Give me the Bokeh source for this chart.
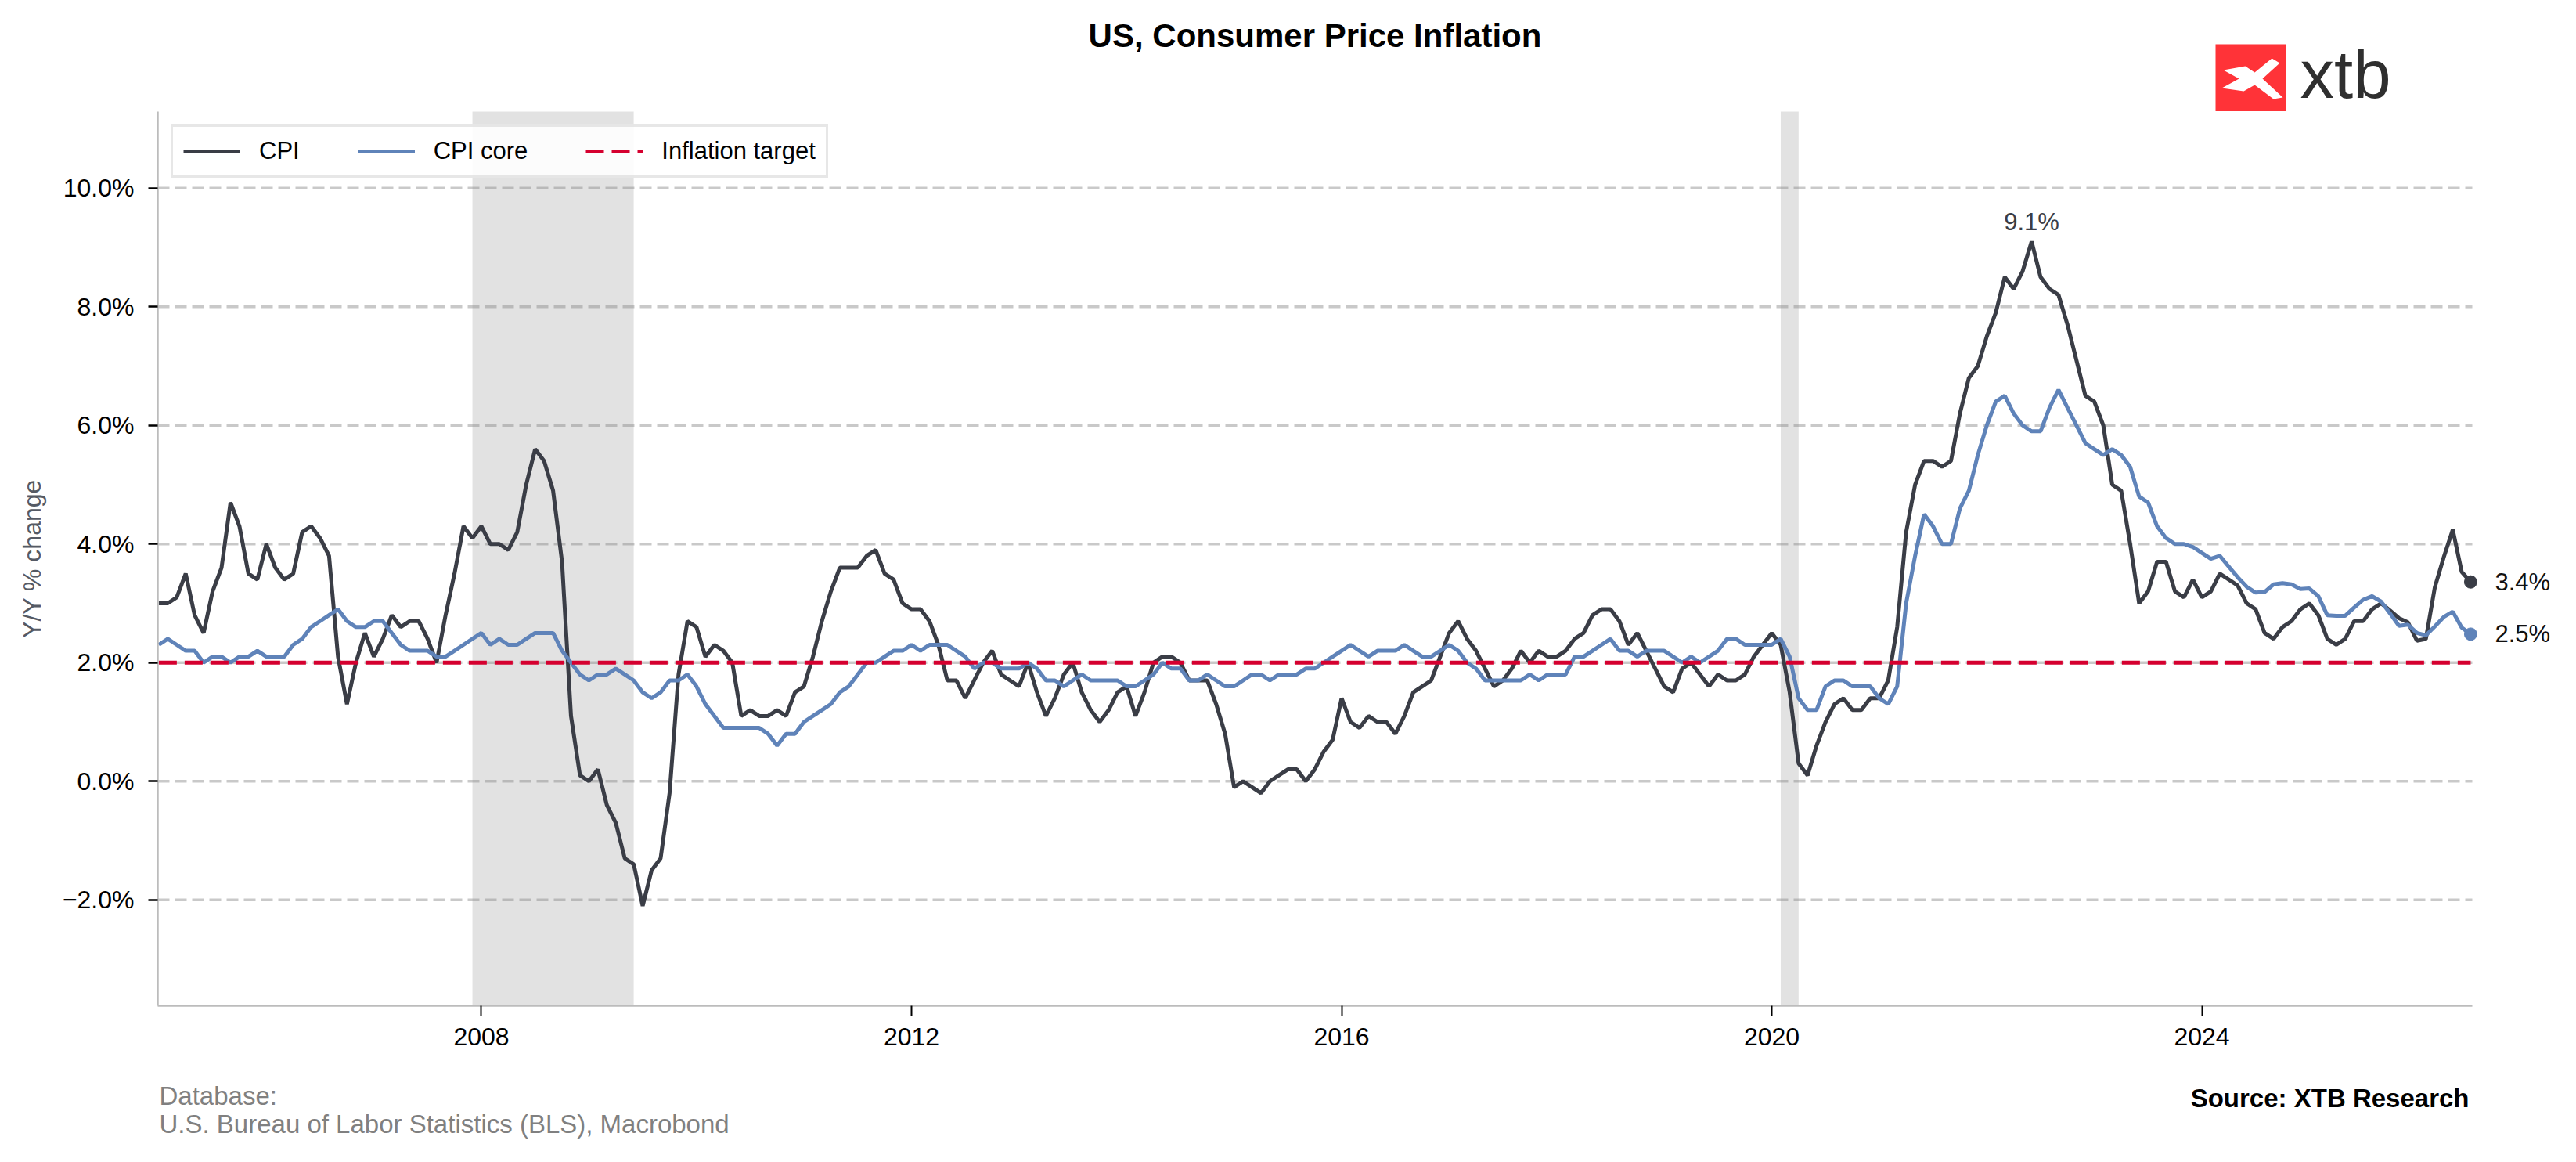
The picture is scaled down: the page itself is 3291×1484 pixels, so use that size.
import pandas as pd
from bokeh.plotting import figure
from bokeh.layouts import column, row
from bokeh.models import FixedTicker, Range1d
from bokeh.core.properties import value
from bokeh.embed import file_html
from bokeh.resources import INLINE

# ---------------- data ----------------
start_month = "2005-01"
end_month = "2026-07"

cpi = [
    3.0, 3.0, 3.1, 3.5, 2.8, 2.5, 3.2, 3.6, 4.7, 4.3, 3.5, 3.4,      # 2005
    4.0, 3.6, 3.4, 3.5, 4.2, 4.3, 4.1, 3.8, 2.1, 1.3, 2.0, 2.5,      # 2006
    2.1, 2.4, 2.8, 2.6, 2.7, 2.7, 2.4, 2.0, 2.8, 3.5, 4.3, 4.1,      # 2007
    4.3, 4.0, 4.0, 3.9, 4.2, 5.0, 5.6, 5.4, 4.9, 3.7, 1.1, 0.1,      # 2008
    0.0, 0.2, -0.4, -0.7, -1.3, -1.4, -2.1, -1.5, -1.3, -0.2, 1.8, 2.7,  # 2009
    2.6, 2.1, 2.3, 2.2, 2.0, 1.1, 1.2, 1.1, 1.1, 1.2, 1.1, 1.5,      # 2010
    1.6, 2.1, 2.7, 3.2, 3.6, 3.6, 3.6, 3.8, 3.9, 3.5, 3.4, 3.0,      # 2011
    2.9, 2.9, 2.7, 2.3, 1.7, 1.7, 1.4, 1.7, 2.0, 2.2, 1.8, 1.7,      # 2012
    1.6, 2.0, 1.5, 1.1, 1.4, 1.8, 2.0, 1.5, 1.2, 1.0, 1.2, 1.5,      # 2013
    1.6, 1.1, 1.5, 2.0, 2.1, 2.1, 2.0, 1.7, 1.7, 1.7, 1.3, 0.8,      # 2014
    -0.1, 0.0, -0.1, -0.2, 0.0, 0.1, 0.2, 0.2, 0.0, 0.2, 0.5, 0.7,   # 2015
    1.4, 1.0, 0.9, 1.1, 1.0, 1.0, 0.8, 1.1, 1.5, 1.6, 1.7, 2.1,      # 2016
    2.5, 2.7, 2.4, 2.2, 1.9, 1.6, 1.7, 1.9, 2.2, 2.0, 2.2, 2.1,      # 2017
    2.1, 2.2, 2.4, 2.5, 2.8, 2.9, 2.9, 2.7, 2.3, 2.5, 2.2, 1.9,      # 2018
    1.6, 1.5, 1.9, 2.0, 1.8, 1.6, 1.8, 1.7, 1.7, 1.8, 2.1, 2.3,      # 2019
    2.5, 2.3, 1.5, 0.3, 0.1, 0.6, 1.0, 1.3, 1.4, 1.2, 1.2, 1.4,      # 2020
    1.4, 1.7, 2.6, 4.2, 5.0, 5.4, 5.4, 5.3, 5.4, 6.2, 6.8, 7.0,      # 2021
    7.5, 7.9, 8.5, 8.3, 8.6, 9.1, 8.5, 8.3, 8.2, 7.7, 7.1, 6.5,      # 2022
    6.4, 6.0, 5.0, 4.9, 4.0, 3.0, 3.2, 3.7, 3.7, 3.2, 3.1, 3.4,      # 2023
    3.1, 3.2, 3.5, 3.4, 3.3, 3.0, 2.9, 2.5, 2.4, 2.6, 2.7, 2.9,      # 2024
    3.0, 2.8, 2.4, 2.3, 2.4, 2.7, 2.7, 2.9, 3.0, 2.88, 2.75, 2.68,   # 2025
    2.37, 2.4, 3.27, 3.78, 4.24, 3.53, 3.36,                          # 2026
]

core = [
    2.3, 2.4, 2.3, 2.2, 2.2, 2.0, 2.1, 2.1, 2.0, 2.1, 2.1, 2.2,      # 2005
    2.1, 2.1, 2.1, 2.3, 2.4, 2.6, 2.7, 2.8, 2.9, 2.7, 2.6, 2.6,      # 2006
    2.7, 2.7, 2.5, 2.3, 2.2, 2.2, 2.2, 2.1, 2.1, 2.2, 2.3, 2.4,      # 2007
    2.5, 2.3, 2.4, 2.3, 2.3, 2.4, 2.5, 2.5, 2.5, 2.2, 2.0, 1.8,      # 2008
    1.7, 1.8, 1.8, 1.9, 1.8, 1.7, 1.5, 1.4, 1.5, 1.7, 1.7, 1.8,      # 2009
    1.6, 1.3, 1.1, 0.9, 0.9, 0.9, 0.9, 0.9, 0.8, 0.6, 0.8, 0.8,      # 2010
    1.0, 1.1, 1.2, 1.3, 1.5, 1.6, 1.8, 2.0, 2.0, 2.1, 2.2, 2.2,      # 2011
    2.3, 2.2, 2.3, 2.3, 2.3, 2.2, 2.1, 1.9, 2.0, 2.0, 1.9, 1.9,      # 2012
    1.9, 2.0, 1.9, 1.7, 1.7, 1.6, 1.7, 1.8, 1.7, 1.7, 1.7, 1.7,      # 2013
    1.6, 1.6, 1.7, 1.8, 2.0, 1.9, 1.9, 1.7, 1.7, 1.8, 1.7, 1.6,      # 2014
    1.6, 1.7, 1.8, 1.8, 1.7, 1.8, 1.8, 1.8, 1.9, 1.9, 2.0, 2.1,      # 2015
    2.2, 2.3, 2.2, 2.1, 2.2, 2.2, 2.2, 2.3, 2.2, 2.1, 2.1, 2.2,      # 2016
    2.3, 2.2, 2.0, 1.9, 1.7, 1.7, 1.7, 1.7, 1.7, 1.8, 1.7, 1.8,      # 2017
    1.8, 1.8, 2.1, 2.1, 2.2, 2.3, 2.4, 2.2, 2.2, 2.1, 2.2, 2.2,      # 2018
    2.2, 2.1, 2.0, 2.1, 2.0, 2.1, 2.2, 2.4, 2.4, 2.3, 2.3, 2.3,      # 2019
    2.3, 2.4, 2.1, 1.4, 1.2, 1.2, 1.6, 1.7, 1.7, 1.6, 1.6, 1.6,      # 2020
    1.4, 1.3, 1.6, 3.0, 3.8, 4.5, 4.3, 4.0, 4.0, 4.6, 4.9, 5.5,      # 2021
    6.0, 6.4, 6.5, 6.2, 6.0, 5.9, 5.9, 6.3, 6.6, 6.3, 6.0, 5.7,      # 2022
    5.6, 5.5, 5.6, 5.5, 5.3, 4.8, 4.7, 4.3, 4.1, 4.0, 4.0, 3.95,     # 2023
    3.85, 3.75, 3.8, 3.62, 3.44, 3.28, 3.18, 3.19, 3.32, 3.34, 3.32, 3.24,  # 2024
    3.25, 3.12, 2.8, 2.79, 2.79, 2.93, 3.06, 3.12, 3.03, 2.83, 2.62, 2.64,  # 2025
    2.5, 2.46, 2.61, 2.77, 2.86, 2.59, 2.48,                         # 2026
]

recessions = [("2007-12", "2009-06"), ("2020-02", "2020-04")]
target = 2.0
y_ticks = [-2, 0, 2, 4, 6, 8, 10]
x_ticks = [2008, 2012, 2016, 2020, 2024]

title_text = "US, Consumer Price Inflation"
y_label = "Y/Y % change"
db_line1 = "Database:"
db_line2 = "U.S. Bureau of Labor Statistics (BLS), Macrobond"
source_text = "Source: XTB Research"
logo_text = "xtb"

# ---------------- helpers / styling ----------------
def frac_year(p):
    return p.year + (p.month - 1) / 12.0

months = pd.period_range(start_month, end_month, freq="M")
x = [frac_year(p) for p in months]

FONT = "Liberation Sans"
C_CPI = "#3a3d46"
C_CORE = "#5f83b9"
C_TARGET = "#d5002f"

TOTAL_W = 3275
HDR_H = 142          # header strip (title + logo)
FL, FR = 201, 3158   # plot frame left / data right edge
FRAME_H = 1142
MAIN_BOTTOM = 76
MAIN_W = 3170        # frame a bit wider than data so end dots are not cut
FOOT_H = 108
RIGHT_W = TOTAL_W - MAIN_W
MAIN_H = FRAME_H + MAIN_BOTTOM

X0, X1 = x[0] - 0.01, x[-1] + 0.015
ppy = (FR - FL) / (X1 - X0)
XR = X1 + (MAIN_W - FR) / ppy
Y0, Y1 = -3.785, 11.29
yrange = Range1d(Y0, Y1)


def blank_fig(w, h, xr, yr):
    f = figure(width=w, height=h, x_range=xr, y_range=yr, title=None,
               output_backend="svg", toolbar_location=None,
               x_axis_location=None, y_axis_location=None, min_border=0,
               background_fill_color="white", border_fill_color="white")
    f.outline_line_color = None
    f.grid.visible = False
    return f

# ---------------- header ----------------
hdr = blank_fig(TOTAL_W, HDR_H, Range1d(0, TOTAL_W), Range1d(HDR_H, 0))
hdr.text(x=[(FL + FR) / 2], y=[45], text=[title_text], text_font=value(FONT),
         text_font_size="42px", text_font_style="bold", text_color="black",
         text_align="center", text_baseline="middle")
# logo: red square with a white stylised X, then the word mark
LX, LY = 2830, 56
hdr.quad(left=[LX], right=[LX + 90], top=[LY], bottom=[HDR_H + 4],
         fill_color="#ff3338", line_color=None)
x_shape = [(72, 18), (82, 24), (60, 44), (86, 68), (74, 70), (50, 52),
           (36, 60), (8, 56), (30, 44), (10, 33), (38, 28), (50, 36)]
hdr.patch([LX + a for a, _ in x_shape], [LY + b for _, b in x_shape],
          fill_color="white", line_color=None)
hdr.text(x=[2938], y=[94], text=[logo_text], text_font=value(FONT),
         text_font_size="87px", text_color="#2f2f2f",
         text_align="left", text_baseline="middle")

# ---------------- main chart ----------------
p = figure(width=MAIN_W, height=MAIN_H, title=None,
           x_range=Range1d(X0, XR), y_range=yrange,
           output_backend="svg", toolbar_location=None,
           min_border_left=FL, min_border_right=0,
           min_border_top=0, min_border_bottom=MAIN_BOTTOM,
           background_fill_color="white", border_fill_color="white")
p.outline_line_color = None
p.xgrid.visible = False
p.ygrid.visible = False

# horizontal grid lines over the data span
p.segment(x0=[X0] * len(y_ticks), x1=[X1] * len(y_ticks), y0=y_ticks, y1=y_ticks,
          line_color="#c9c9c9", line_width=3.5, line_dash="15 7")

# recession shading
for a, b in recessions:
    pa, pb = pd.Period(a, "M"), pd.Period(b, "M")
    p.quad(left=frac_year(pa), right=frac_year(pb), bottom=Y0 - 1, top=Y1 + 1,
           fill_color="#8f8f8f", fill_alpha=0.255, line_color=None)

p.line(x, cpi, line_color=C_CPI, line_width=5, legend_label="CPI")
p.line(x, core, line_color=C_CORE, line_width=5, legend_label="CPI core")
p.line([x[0], x[-1]], [target, target], line_color=C_TARGET, line_width=5,
       line_dash="23 10", legend_label="Inflation target")

# end dots
p.scatter([x[-1]], [cpi[-1]], size=16, fill_color=C_CPI, line_color=C_CPI)
p.scatter([x[-1]], [core[-1]], size=16, fill_color=C_CORE, line_color=C_CORE)

# peak label
ipk = max(range(len(cpi)), key=lambda i: cpi[i])
p.text(x=[x[ipk]], y=[cpi[ipk]], text=[f"{cpi[ipk]:.1f}%"], y_offset=-25,
       text_font=value(FONT), text_font_size="31px", text_color=C_CPI,
       text_align="center", text_baseline="middle")

# axes
yax = p.yaxis[0]
yax.ticker = FixedTicker(ticks=y_ticks)
yax.major_label_overrides = {t: (f"{t:.1f}%").replace("-", "\u2212") for t in y_ticks}
yax.minor_tick_line_color = None
yax.major_tick_out = 12
yax.major_tick_in = 0
yax.major_tick_line_color = "black"
yax.major_tick_line_width = 2.5
yax.major_label_standoff = 18
yax.major_label_text_font = FONT
yax.major_label_text_font_size = "32px"
yax.major_label_text_color = "black"
yax.axis_line_color = "#bcbcbc"
yax.axis_line_width = 2.5
yax.axis_label = y_label
yax.axis_label_text_font = FONT
yax.axis_label_text_font_size = "32px"
yax.axis_label_text_font_style = "normal"
yax.axis_label_text_color = "#555a64"
yax.axis_label_standoff = 18

xax = p.xaxis[0]
xax.ticker = FixedTicker(ticks=x_ticks)
xax.bounds = (X0, X1)
xax.major_label_overrides = {t: str(t) for t in x_ticks}
xax.minor_tick_line_color = None
xax.major_tick_out = 13
xax.major_tick_in = 0
xax.major_tick_line_color = "black"
xax.major_tick_line_width = 2
xax.major_label_standoff = 15
xax.major_label_text_font = FONT
xax.major_label_text_font_size = "32px"
xax.major_label_text_color = "black"
xax.axis_line_color = "#bcbcbc"
xax.axis_line_width = 2.5

# legend
lg = p.legend[0]
lg.location = "top_left"
lg.orientation = "horizontal"
lg.margin = 17
lg.padding = 13
lg.spacing = 74
lg.label_standoff = 24
lg.glyph_width = 73
lg.glyph_height = 34
lg.label_height = 34
lg.label_text_font = FONT
lg.label_text_font_size = "31px"
lg.label_text_color = "black"
lg.border_line_color = "#cfcfcf"
lg.border_line_width = 3
lg.background_fill_color = "white"
lg.background_fill_alpha = 0.88

# ---------------- right strip: last-value labels ----------------
rgt = blank_fig(RIGHT_W, MAIN_H, Range1d(0, RIGHT_W), yrange)
rgt.min_border_bottom = MAIN_BOTTOM
rgt.text(x=[3187 - MAIN_W] * 2, y=[cpi[-1], core[-1]],
         text=[f"{cpi[-1]:.1f}%", f"{core[-1]:.1f}%"],
         text_font=value(FONT), text_font_size="31px", text_color="#111111",
         text_align="left", text_baseline="middle")

# ---------------- footer ----------------
top_of_footer = HDR_H + MAIN_H
ftr = blank_fig(TOTAL_W, FOOT_H, Range1d(0, TOTAL_W), Range1d(FOOT_H, 0))
ftr.text(x=[203, 203], y=[1399 - top_of_footer, 1435 - top_of_footer],
         text=[db_line1, db_line2], text_font=value(FONT), text_font_size="33px",
         text_color="#808080", text_align="left", text_baseline="middle")
ftr.text(x=[3154], y=[1402 - top_of_footer], text=[source_text], text_font=value(FONT),
         text_font_size="33px", text_font_style="bold", text_color="black",
         text_align="right", text_baseline="middle")

layout = column(hdr, row(p, rgt), ftr)
open("out.html", "w").write(file_html(layout, INLINE))
